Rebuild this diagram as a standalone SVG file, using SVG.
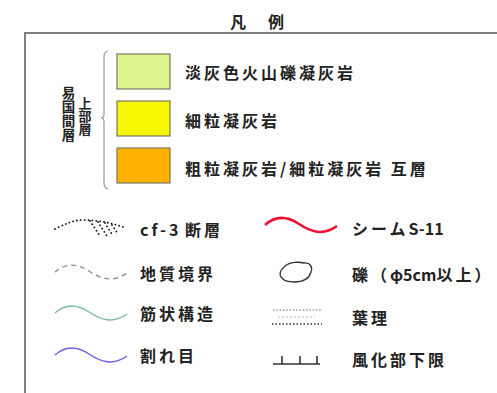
<svg xmlns="http://www.w3.org/2000/svg" width="497" height="393" viewBox="0 0 497 393">
  <defs>
    <style>
      .t { font-family: "Noto Sans CJK JP", "Liberation Sans", sans-serif; fill: #222; font-weight: bold; }
      .lbl { font-size: 16px; letter-spacing: 3px; }
      .lat { letter-spacing: 0px; }
      .vt { writing-mode: vertical-rl; }
      .sw { stroke: #777766; stroke-width: 1.2; }
      .dot { fill: none; stroke: #111; stroke-width: 1.8; stroke-linecap: round; stroke-dasharray: 0.1 3.8; }
    </style>
    <path id="wave" d="M0,7 C10,-2 22,-2 34,6 S58,18 72,8" fill="none"/>
  </defs>
  <rect width="497" height="393" fill="#fff"/>
  <text class="t" x="230" y="28" font-size="16" letter-spacing="3">凡　例</text>
  <path d="M25,393 V33 H497" fill="none" stroke="#808080" stroke-width="2"/>

  <g id="formation-label">
    <text class="t vt" x="68.5" y="86" font-size="13.5" letter-spacing="0.5">易国間層</text>
    <text class="t vt" x="85" y="97" font-size="13" letter-spacing="0">上部層</text>
    <path d="M108,51 Q104,52 104,56 V114 Q104,118 101,118 Q104,118 104,122 V183 Q104,188 108,189" fill="none" stroke="#999" stroke-width="1.2"/>
  </g>

  <g id="unit1">
    <rect class="sw" x="117" y="54" width="53" height="35" fill="#dbf58c"/>
    <text class="t lbl" x="185" y="79">淡灰色火山礫凝灰岩</text>
  </g>
  <g id="unit2">
    <rect class="sw" x="117" y="101" width="53" height="35" fill="#f7f700"/>
    <text class="t lbl" x="185" y="127">細粒凝灰岩</text>
  </g>
  <g id="unit3">
    <rect class="sw" x="117" y="148" width="53" height="35" fill="#ffb200"/>
    <text class="t lbl" x="185" y="175">粗粒凝灰岩/細粒凝灰岩 互層</text>
  </g>

  <g id="connectors">
    <g id="sym-fault">
      <path class="dot" d="M55,229 C65,224 74,220 82,220 C98,220 112,223 126,228"/>
      <path class="dot" d="M90,221 L100,236 M98,222 L107,236 M105,223 L113,236 M112,225 L118,234"/>
    </g>
    <use id="sym-boundary" href="#wave" x="55" y="265" stroke="#888" stroke-width="1.3" stroke-dasharray="5 4"/>
    <use id="sym-banding" href="#wave" x="55" y="306" stroke="#7dbd9d" stroke-width="1.5"/>
    <use id="sym-joint" href="#wave" x="55" y="348" stroke="#6b5cf5" stroke-width="1.5"/>
    <use id="sym-seam" href="#wave" x="265" y="218" stroke="#ee1030" stroke-width="2.6"/>
    <path id="sym-pebble" d="M284,267 C290,261 300,262 304,263 C310,262 313,267 311,272 C309,279 303,282 294,282 C281,282 276,274 284,267 Z" fill="none" stroke="#333" stroke-width="1.3"/>
    <g id="sym-lamina" fill="none" stroke-linecap="butt">
      <path d="M273,310 H322" stroke="#999" stroke-width="1.3" stroke-dasharray="1.5 1.8"/>
      <path d="M278,317 H315" stroke="#bbb" stroke-width="1" stroke-dasharray="2 2"/>
      <path d="M272,324 H322" stroke="#333" stroke-width="1.4" stroke-dasharray="1.5 2"/>
    </g>
    <path id="sym-weathering" d="M273,364 H320 M282,364 V356 M300,364 V356 M317,364 V356" fill="none" stroke="#333" stroke-width="1.6"/>
  </g>

  <g id="item-fault"><text class="t lbl" x="140" y="236"><tspan style="letter-spacing:3px">cf-3 </tspan><tspan x="185">断層</tspan></text></g>
  <g id="item-boundary"><text class="t lbl" x="140" y="280">地質境界</text></g>
  <g id="item-banding"><text class="t lbl" x="140" y="320">筋状構造</text></g>
  <g id="item-joint"><text class="t lbl" x="140" y="362">割れ目</text></g>
  <g id="item-seam"><text class="t lbl" x="352" y="235">シーム<tspan class="lat">S-11</tspan></text></g>
  <g id="item-pebble"><text class="t lbl" x="352" y="281">礫（<tspan class="lat">φ5cm</tspan>以上）</text></g>
  <g id="item-lamina"><text class="t lbl" x="352" y="324">葉理</text></g>
  <g id="item-weathering"><text class="t lbl" x="352" y="366">風化部下限</text></g>
</svg>
